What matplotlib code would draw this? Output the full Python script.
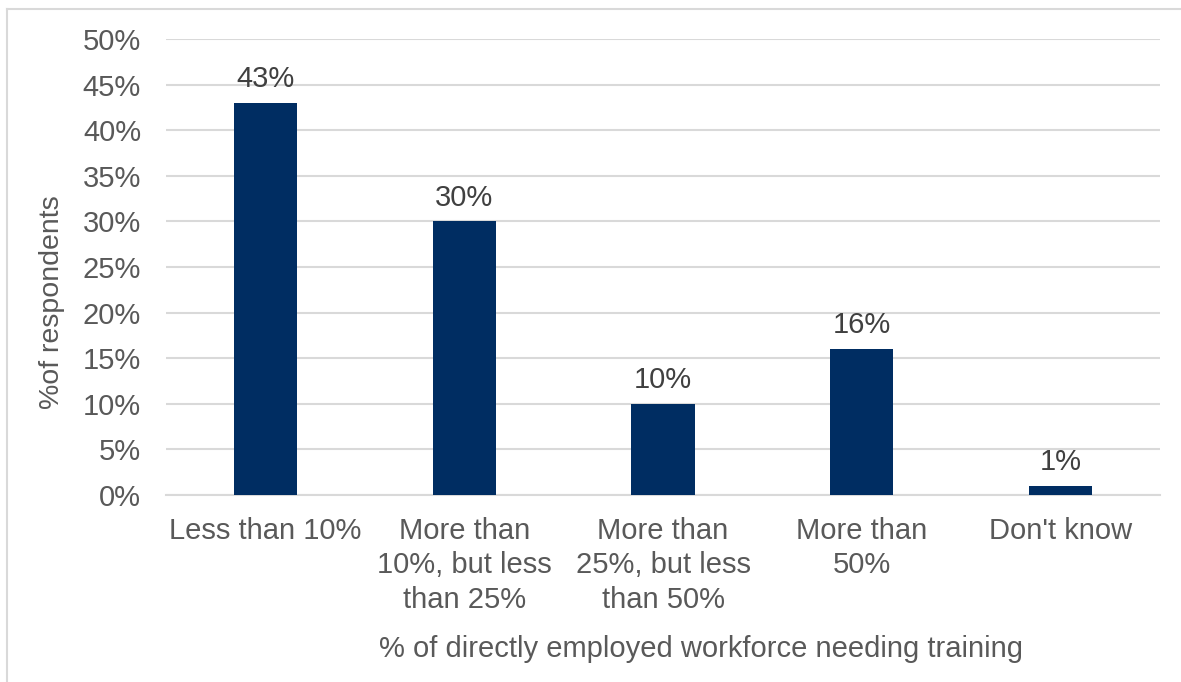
import matplotlib.pyplot as plt
from matplotlib.lines import Line2D

categories = ["Less than 10%", "More than\n10%, but less\nthan 25%", "More than\n25%, but less\nthan 50%",
              "More than\n50%", "Don't know"]
values = [43, 30, 10, 16, 1]
y_ticks = [0, 5, 10, 15, 20, 25, 30, 35, 40, 45, 50]

text_color = '#595959'
bar_color = '#002D62'
grid_color = '#D9D9D9'

plt.rcParams['font.family'] = ['Liberation Sans', 'DejaVu Sans']

fig = plt.figure(figsize=(11.81, 6.82), dpi=100)
ax = fig.add_axes([166 / 1181, 1 - 495 / 682, (1160 - 166) / 1181, (495 - 39) / 682])

x = range(len(categories))
bars = ax.bar(x, values, width=0.317, color=bar_color, zorder=3)

for xi, v in zip(x, values):
    ax.annotate(f"{v}%", (xi, v), xytext=(0, 7), textcoords='offset points',
                ha='center', va='bottom', fontsize=21, color='#404040')

ax.set_xlim(-0.5, len(categories) - 0.5)
ax.set_ylim(0, 50)
ax.set_yticks(y_ticks)
ax.set_yticklabels([f"{t}%" for t in y_ticks])
ax.set_xticks(list(x))
ax.set_xticklabels(categories, linespacing=1.28)
ax.tick_params(axis='y', length=0, pad=18, labelsize=21, labelcolor=text_color)
ax.tick_params(axis='x', length=0, pad=16, labelsize=21, labelcolor=text_color)

ax.grid(axis='y', color=grid_color, linewidth=1.5, zorder=0)
for s in ['top', 'right', 'left']:
    ax.spines[s].set_visible(False)
ax.spines['bottom'].set_color(grid_color)
ax.spines['bottom'].set_linewidth(1.5)

fig.text(52 / 1181, 1 - 302 / 682, "%of respondents", rotation=90, ha='center', va='center',
         fontsize=20.5, color=text_color)
fig.text(701 / 1181, 1 - 649 / 682, "% of directly employed workforce needing training",
         ha='center', va='center', fontsize=21, color=text_color)

# outer frame, cut at right and bottom
fig.add_artist(Line2D([7 / 1181, 7 / 1181], [0, 1 - 9 / 682], transform=fig.transFigure,
                      color=grid_color, linewidth=1.5))
fig.add_artist(Line2D([7 / 1181, 1], [1 - 9 / 682, 1 - 9 / 682], transform=fig.transFigure,
                      color=grid_color, linewidth=1.5))

fig.savefig('out.png', dpi=100)
